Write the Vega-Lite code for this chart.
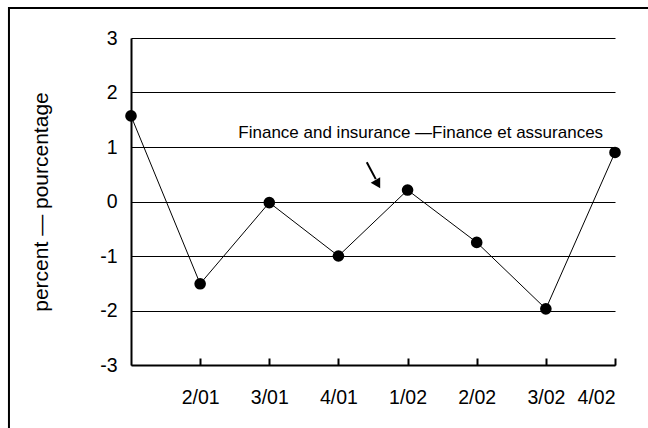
{
  "$schema": "https://vega.github.io/schema/vega-lite/v6.json",
  "width": 484,
  "height": 327,
  "autosize": {"type": "none"},
  "padding": {"left": 131, "top": 38, "right": 33, "bottom": 63},
  "background": "white",
  "config": {"view": {"stroke": null}, "font": "Liberation Sans"},
  "datasets": {
    "series": [
      {"i": 0, "quarter": "1/01", "value": 1.57},
      {"i": 1, "quarter": "2/01", "value": -1.51},
      {"i": 2, "quarter": "3/01", "value": -0.02},
      {"i": 3, "quarter": "4/01", "value": -1.0},
      {"i": 4, "quarter": "1/02", "value": 0.21},
      {"i": 5, "quarter": "2/02", "value": -0.75},
      {"i": 6, "quarter": "3/02", "value": -1.97},
      {"i": 7, "quarter": "4/02", "value": 0.9}
    ],
    "frame": [{"fx1": -1.765, "fx2": 7.7, "fy1": 3.55, "fy2": -4.3}],
    "note": [{"nx": 4.19, "ny": 1.165, "label": "Finance and insurance —Finance et assurances"}],
    "arrow": [{"ax": 3.41, "ay": 0.72, "ax2": 3.54, "ay2": 0.41, "hx": 3.57, "hy": 0.32}]
  },
  "layer": [
    {
      "data": {"name": "series"},
      "mark": {"type": "line", "color": "black", "strokeWidth": 1},
      "encoding": {
        "x": {
          "field": "i", "type": "quantitative",
          "scale": {"domain": [0, 7], "nice": false, "zero": false},
          "axis": {
            "values": [1, 2, 3, 4, 5, 6, 7],
            "labelExpr": "['','2/01','3/01','4/01','1/02','2/02','3/02','4/02'][datum.value]",
            "grid": false, "ticks": true, "tickSize": -7, "tickColor": "black", "tickWidth": 2,
            "domainColor": "black", "domainWidth": 2,
            "labelFontSize": 19.5, "labelColor": "black", "labelPadding": 30,
            "title": null
          }
        },
        "y": {
          "field": "value", "type": "quantitative",
          "scale": {"domain": [-3, 3], "nice": false, "zero": false},
          "axis": {
            "values": [-3, -2, -1, 0, 1, 2, 3],
            "labelExpr": "'' + datum.value",
            "grid": true, "gridColor": "black", "gridWidth": 1, "gridOpacity": 1,
            "ticks": false, "domainColor": "black", "domainWidth": 2,
            "labelFontSize": 19.5, "labelColor": "black", "labelPadding": 14,
            "title": "percent — pourcentage", "titleFontSize": 21, "titleFontWeight": "normal",
            "titleColor": "black", "titlePadding": 48
          }
        }
      }
    },
    {
      "data": {"name": "series"},
      "mark": {"type": "point", "shape": "circle", "filled": true, "color": "black", "opacity": 1, "size": 135},
      "encoding": {
        "x": {"field": "i", "type": "quantitative"},
        "y": {"field": "value", "type": "quantitative"}
      }
    },
    {
      "data": {"name": "note"},
      "mark": {"type": "text", "fontSize": 17, "color": "black", "align": "center", "baseline": "alphabetic"},
      "encoding": {
        "x": {"field": "nx", "type": "quantitative"},
        "y": {"field": "ny", "type": "quantitative"},
        "text": {"field": "label"}
      }
    },
    {
      "data": {"name": "arrow"},
      "mark": {"type": "rule", "color": "black", "strokeWidth": 2},
      "encoding": {
        "x": {"field": "ax", "type": "quantitative"},
        "y": {"field": "ay", "type": "quantitative"},
        "x2": {"field": "ax2"},
        "y2": {"field": "ay2"}
      }
    },
    {
      "data": {"name": "arrow"},
      "mark": {"type": "point", "shape": "triangle-down", "filled": true, "color": "black", "opacity": 1, "size": 120, "angle": -30},
      "encoding": {
        "x": {"field": "hx", "type": "quantitative"},
        "y": {"field": "hy", "type": "quantitative"}
      }
    },
    {
      "data": {"name": "frame"},
      "mark": {"type": "rect", "fill": null, "fillOpacity": 0, "stroke": "black", "strokeWidth": 2, "clip": false},
      "encoding": {
        "x": {"field": "fx1", "type": "quantitative"},
        "x2": {"field": "fx2"},
        "y": {"field": "fy1", "type": "quantitative"},
        "y2": {"field": "fy2"}
      }
    }
  ]
}
